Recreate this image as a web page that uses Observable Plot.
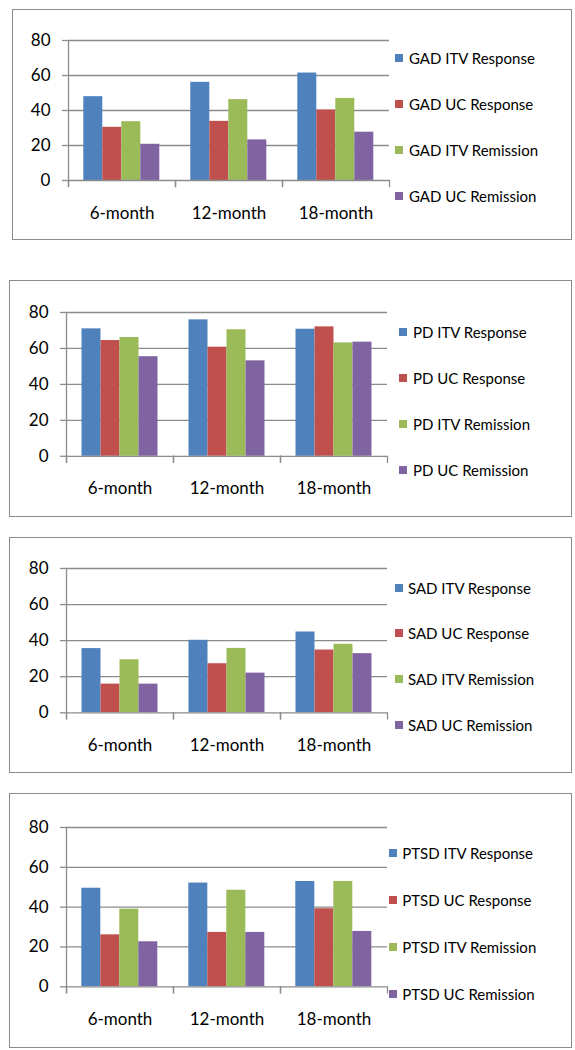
<!DOCTYPE html>
<html>
<head>
<meta charset="utf-8">
<script src="https://cdn.jsdelivr.net/npm/d3@7"></script>
<script src="https://cdn.jsdelivr.net/npm/@observablehq/plot@0.6"></script>
<style>
  html, body { margin: 0; padding: 0; background: #fff; }
  #page { position: relative; width: 575px; height: 1050px; overflow: hidden; font-family: Lato, "Open Sans", sans-serif; }
  .box { position: absolute; border: 1.5px solid #8c8c8c; box-sizing: border-box; }
  .chart { position: absolute; left: 0; }
  .leg-sq { position: absolute; width: 8px; height: 8px; }
  .leg-tx { position: absolute; font-size: 15px; line-height: 16px; color: #000; white-space: nowrap; }
</style>
</head>
<body>
<div id="page"></div>
<script>
// ---- data ----
const months = ["6-month", "12-month", "18-month"];
const measures = ["ITV Response", "UC Response", "ITV Remission", "UC Remission"];
const colors = ["#4F81BD", "#C0504D", "#9BBB59", "#8064A2"];
const yTicks = [0, 20, 40, 60, 80];

const disorders = ["GAD", "PD", "SAD", "PTSD"];

const gadItvResponse = [47.9, 56.1, 61.4];
const gadUcResponse = [30.4, 33.8, 40.3];
const gadItvRemission = [33.6, 46.2, 46.9];
const gadUcRemission = [20.7, 23.2, 27.6];

const pdItvResponse = [70.9, 75.9, 70.7];
const pdUcResponse = [64.4, 60.7, 72.0];
const pdItvRemission = [66.1, 70.4, 63.1];
const pdUcRemission = [55.4, 53.1, 63.5];

const sadItvResponse = [35.6, 40.2, 44.8];
const sadUcResponse = [15.9, 27.2, 34.8];
const sadItvRemission = [29.4, 35.7, 38.0];
const sadUcRemission = [15.9, 22.0, 32.8];

const ptsdItvResponse = [49.5, 52.1, 52.9];
const ptsdUcResponse = [26.1, 27.3, 39.2];
const ptsdItvRemission = [39.0, 48.5, 52.9];
const ptsdUcRemission = [22.6, 27.3, 27.8];

const seriesByDisorder = {
  GAD: [gadItvResponse, gadUcResponse, gadItvRemission, gadUcRemission],
  PD: [pdItvResponse, pdUcResponse, pdItvRemission, pdUcRemission],
  SAD: [sadItvResponse, sadUcResponse, sadItvRemission, sadUcRemission],
  PTSD: [ptsdItvResponse, ptsdUcResponse, ptsdItvRemission, ptsdUcRemission]
};

// ---- layout (page pixel positions) ----
const layout = [
  {box: [12, 9, 572, 239.5], axisX: 66.7, right: 390, y80: 40.3, y0: 180.3, sqX: 395, txX: 409, legY: [58.3, 104.3, 150, 195.7]},
  {box: [9, 279.5, 572, 516.7], axisX: 64.5, right: 387.6, y80: 311.7, y0: 455.5, sqX: 399.4, txX: 413, legY: [331.7, 378.3, 424, 470]},
  {box: [9, 536.7, 572, 773.3], axisX: 64.5, right: 387.6, y80: 568, y0: 712.3, sqX: 395, txX: 408, legY: [587.7, 633.3, 679.3, 725]},
  {box: [9, 793.3, 572, 1048.3], axisX: 65.7, right: 387.6, y80: 827, y0: 986.3, sqX: 389.4, txX: 402.3, legY: [853.3, 900, 947.3, 994.3]}
];

const page = document.getElementById("page");
const gray = "#8c8c8c";

disorders.forEach((dis, k) => {
  const L = layout[k];
  const box = document.createElement("div");
  box.className = "box";
  box.style.left = L.box[0] + "px";
  box.style.top = L.box[1] + "px";
  box.style.width = (L.box[2] - L.box[0]) + "px";
  box.style.height = (L.box[3] - L.box[1]) + "px";
  page.appendChild(box);

  const rows = [];
  seriesByDisorder[dis].forEach((vals, si) => {
    vals.forEach((v, mi) => rows.push({month: months[mi], series: dis + " " + measures[si], value: v}));
  });
  const seriesNames = measures.map(m => dis + " " + m);

  const marginTop = 20, marginBottom = 52;
  const plotH = L.y0 - L.y80;
  const W = 400;
  const chart = Plot.plot({
    width: W,
    height: plotH + marginTop + marginBottom,
    marginLeft: L.axisX,
    marginRight: W - L.right,
    marginTop,
    marginBottom,
    style: {fontFamily: "Lato, 'Open Sans', sans-serif", fontSize: "17px", color: "#000", background: "transparent", overflow: "visible"},
    fx: {domain: months, padding: 0, label: null},
    x: {domain: seriesNames, paddingInner: 0, paddingOuter: 0.75, axis: null},
    y: {domain: [0, 80], label: null},
    color: {domain: seriesNames, range: colors},
    marks: [
      Plot.ruleY(yTicks.slice(1), {stroke: gray, strokeWidth: 1.3}),
      Plot.barY(rows, {fx: "month", x: "series", y: "value", fill: "series"}),
      Plot.ruleY([0], {stroke: gray, strokeWidth: 1.3}),
      Plot.frame({anchor: "left", facetAnchor: "left", stroke: gray, strokeWidth: 1.3, insetBottom: -6}),
      Plot.frame({anchor: "left", stroke: gray, strokeWidth: 1.3, insetTop: plotH, insetBottom: -6}),
      Plot.frame({anchor: "right", stroke: gray, strokeWidth: 1.3, insetTop: plotH, insetBottom: -6}),
      Plot.axisY({ticks: yTicks, tickSize: 6, tickPadding: 12, stroke: gray, strokeWidth: 1.3, fill: "#000", label: null, tickFormat: d => String(d)}),
      Plot.axisFx({anchor: "bottom", tickSize: 0, tickPadding: 26, fill: "#000", label: null})
    ]
  });
  chart.classList.add("chart");
  chart.style.top = (L.y80 - marginTop) + "px";
  chart.style.position = "absolute";
  chart.style.left = "0px";
  page.appendChild(chart);

  seriesNames.forEach((name, i) => {
    const sq = document.createElement("div");
    sq.className = "leg-sq";
    sq.style.background = colors[i];
    sq.style.left = L.sqX + "px";
    sq.style.top = (L.legY[i] - 4) + "px";
    page.appendChild(sq);
    const tx = document.createElement("div");
    tx.className = "leg-tx";
    tx.textContent = name;
    tx.style.left = L.txX + "px";
    tx.style.top = (L.legY[i] - 8) + "px";
    page.appendChild(tx);
  });
});
</script>
</body>
</html>
